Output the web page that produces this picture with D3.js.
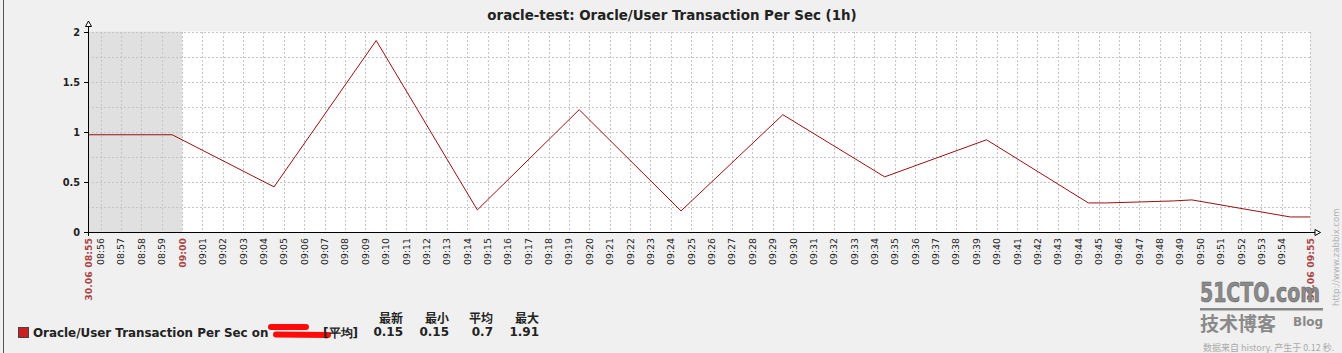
<!DOCTYPE html>
<html><head><meta charset="utf-8">
<script src="https://cdn.jsdelivr.net/npm/d3@7"></script>
<style>body{margin:0;background:#f0f0f0}svg{display:block}</style>
</head><body><svg id="c" width="1342" height="353"></svg>
<script>
// ---- data ----
const times = ["08:55:23","08:59:31","09:04:31","09:09:32","09:14:30","09:19:30","09:24:30","09:29:30","09:34:30","09:39:30","09:44:30","09:45:23","09:47:05","09:48:41","09:49:35","09:54:25","09:55:23"];
const values = [0.97,0.97,0.45,1.91,0.22,1.22,0.21,1.17,0.55,0.92,0.29,0.29,0.30,0.31,0.32,0.15,0.15];
const yTickLabels = [0,0.5,1,1.5,2];
const yGridValues = [0.25,0.5,0.75,1,1.25,1.5,1.75,2];
const legendHeaders = ["最新","最小","平均","最大"];
const legendValues = ["0.15","0.15","0.7","1.91"];
const chartTitle = "oracle-test: Oracle/User Transaction Per Sec (1h)";
const seriesName = "Oracle/User Transaction Per Sec on";
const seriesFunc = "[平均]";
const workStart = "09:00:00";
const dateLabel = "30.06";
const day = "2013-06-30 ";

const parse = d3.timeParse("%Y-%m-%d %H:%M:%S");
const data = times.map((t,i)=>({t:parse(day+t), v:values[i]}));
const svg = d3.select("#c");
const F = "DejaVu Sans";

svg.append("rect").attr("width",1342).attr("height",353).attr("fill","#f0f0f0");
svg.append("line").attr("x1",3.5).attr("x2",3.5).attr("y1",0).attr("y2",353).attr("stroke","#555");

const x = d3.scaleTime().domain([data[0].t, data[data.length-1].t]).range([88,1310]);
const y = d3.scaleLinear().domain([0,2]).range([232,31.5]);

// plot background
svg.append("rect").attr("x",x.range()[0]).attr("y",y(2)).attr("width",x.range()[1]-x.range()[0]).attr("height",y(0)-y(2)).attr("fill","#fff");
// non-working time shading
const ws = parse(day+workStart);
svg.append("rect").attr("x",x(data[0].t)).attr("y",y(2)).attr("width",x(ws)-x(data[0].t)).attr("height",y(0)-y(2)).attr("fill","#e0e0e0");

// grid
const minuteTicks = x.ticks(d3.timeMinute.every(1)).filter(d=>x(d)>x.range()[0]+9 && x(d)<x.range()[1]-9);
const g = svg.append("g").attr("stroke","#c4c4c4").attr("stroke-dasharray","2,2").attr("shape-rendering","crispEdges");
minuteTicks.forEach(d=>{
  const xx=Math.round(x(d))+0.5;
  g.append("line").attr("x1",xx).attr("x2",xx).attr("y1",y(2)).attr("y2",y(0));
});
g.append("line").attr("x1",x.range()[1]+0.5).attr("x2",x.range()[1]+0.5).attr("y1",y(2)).attr("y2",y(0));
yGridValues.forEach(v=>{
  const yy=Math.round(y(v))+0.5;
  g.append("line").attr("x1",x.range()[0]).attr("x2",x.range()[1]).attr("y1",yy).attr("y2",yy);
});

// line
svg.append("path").datum(data)
  .attr("d", d3.line().x(d=>x(d.t)).y(d=>y(d.v)))
  .attr("fill","none").attr("stroke","#991010").attr("stroke-width",1);

// axes
const ax = svg.append("g").attr("stroke","#000").attr("fill","none");
ax.append("line").attr("x1",88.5).attr("x2",88.5).attr("y1",y(0)+4).attr("y2",26);
ax.append("path").attr("d","M88.5,21 L85.5,26.5 L91.5,26.5 Z").attr("fill","#fff");
ax.append("line").attr("x1",84).attr("x2",1315).attr("y1",232.5).attr("y2",232.5);
ax.append("path").attr("d","M1315,229.5 L1320.5,232.5 L1315,235.5 Z").attr("fill","#fff");

// y labels
svg.append("g").selectAll("text").data(yTickLabels).join("text")
  .attr("x",80).attr("y",d=>y(d)+4).attr("text-anchor","end")
  .attr("font-family",F).attr("font-weight","bold").attr("font-size","9.8px").attr("fill","#222")
  .text(d=>d3.format("~g")(d));
svg.append("g").attr("stroke","#000").selectAll("line").data(yTickLabels).join("line")
  .attr("x1",84).attr("x2",88).attr("y1",d=>Math.round(y(d))+0.5).attr("y2",d=>Math.round(y(d))+0.5);

// x labels
const fmt = d3.timeFormat("%H:%M");
const xl = svg.append("g").attr("font-family",F).attr("font-size","9.4px");
minuteTicks.forEach(d=>{
  const red = d.getMinutes()===0;
  xl.append("text").attr("transform",`translate(${x(d)+3.5},238) rotate(-90)`)
    .attr("text-anchor","end").attr("fill",red?"#aa4444":"#222").attr("font-weight",red?"bold":"normal")
    .text(fmt(d));
});
[data[0].t, data[data.length-1].t].forEach(d=>{
  xl.append("text").attr("transform",`translate(${x(d)+3.5},238) rotate(-90)`)
    .attr("text-anchor","end").attr("fill","#aa4444").attr("font-weight","bold")
    .text(dateLabel+" "+fmt(d));
});

// title
svg.append("text").attr("x",672).attr("y",20).attr("text-anchor","middle")
  .attr("font-family",F).attr("font-weight","bold").attr("font-size","13.4px").attr("fill","#222").text(chartTitle);

// legend
svg.append("rect").attr("x",18.5).attr("y",327.5).attr("width",10).attr("height",10).attr("fill","#cc1f1f").attr("stroke","#444");
svg.append("text").attr("x",33).attr("y",337).attr("font-family",F).attr("font-weight","bold").attr("font-size","11.9px").attr("fill","#222").text(seriesName);
svg.append("path").attr("d","M271,327 L306,327 M276,334.5 L328,335").attr("stroke","#ff0a0a").attr("stroke-width",6).attr("stroke-linecap","round").attr("fill","none");
svg.append("text").attr("x",358).attr("y",337).attr("text-anchor","end").attr("font-family",F).attr("font-weight","bold").attr("font-size","12px").attr("fill","#222").text(seriesFunc);
const colRight = [403,449,493,539];
legendHeaders.forEach((h,i)=>{
  svg.append("text").attr("x",colRight[i]).attr("y",323).attr("text-anchor","end").attr("font-family","Noto Sans CJK SC").attr("font-weight","bold").attr("font-size","12px").attr("fill","#222").text(h);
  svg.append("text").attr("x",colRight[i]).attr("y",336).attr("text-anchor","end").attr("font-family",F).attr("font-weight","bold").attr("font-size","12px").attr("fill","#222").text(legendValues[i]);
});

// watermarks
svg.append("text").attr("transform","translate(1200,302) scale(0.78,1)").attr("font-family","DejaVu Sans Condensed").attr("font-weight","bold").attr("font-size","27px").attr("fill","#8a8a8a").attr("stroke","#666").attr("stroke-width",0.6).text("51CTO.com");
svg.append("rect").attr("x",1200).attr("y",308).attr("width",123).attr("height",2.5).attr("fill","#888");
svg.append("text").attr("x",1200).attr("y",331).attr("font-family","Noto Sans CJK SC").attr("font-weight","bold").attr("font-size","19px").attr("fill","#8a8a8a").text("技术博客");
svg.append("text").attr("x",1293).attr("y",326).attr("font-family",F).attr("font-weight","bold").attr("font-size","12px").attr("fill","#888").text("Blog");
svg.append("text").attr("transform","translate(1339,306) rotate(-90)").attr("font-family",F).attr("font-size","8.5px").attr("fill","#b0b0b0").text("http://www.zabbix.com");
svg.append("text").attr("x",1203).attr("y",351).attr("font-family","Noto Sans CJK SC").attr("font-size","9px").attr("fill","#aaa").text("数据来自 history. 产生于 0.12 秒.");
</script></body></html>
